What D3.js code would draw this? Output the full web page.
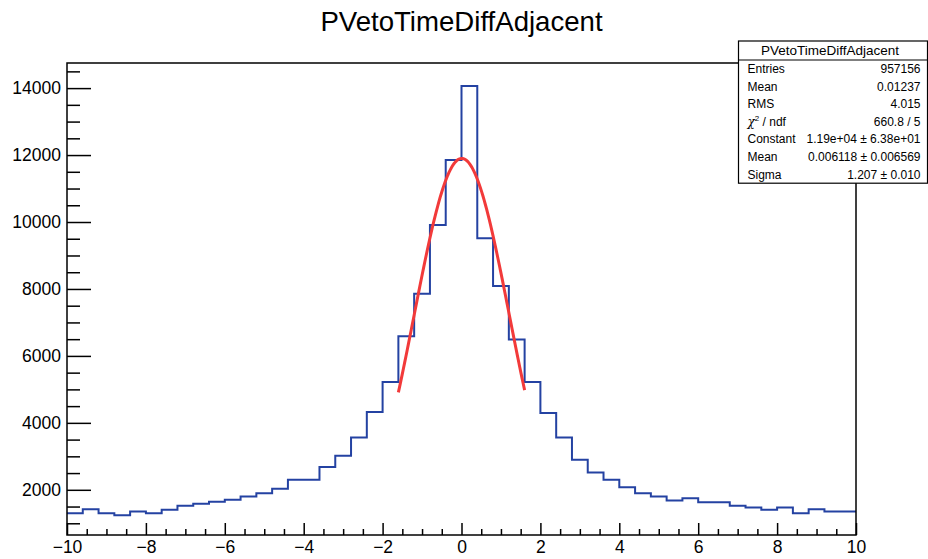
<!DOCTYPE html>
<html>
<head>
<meta charset="utf-8">
<script src="https://d3js.org/d3.v7.min.js"></script>
<style>
  body { margin: 0; background: #fff; }
  text { font-family: "Liberation Sans", Arial, sans-serif; }
</style>
</head>
<body>
<div id="chart"></div>
<script>
  // bin contents, 50 bins of width 0.4 from -10 to 10
  const binCounts = [
    1302, 1422, 1302, 1242, 1351, 1302, 1401, 1521, 1581, 1641,
    1701, 1800, 1900, 2030, 2300, 2300, 2680, 3018, 3566, 4326,
    5224, 6590, 7859, 9913, 11850, 14060, 9515, 8087, 6491, 5224,
    4296, 3566, 2898, 2518, 2300, 2080, 1900, 1800, 1680, 1750,
    1630, 1630, 1521, 1471, 1401, 1471, 1302, 1422, 1351, 1351
  ];
  const xRange = [-10, 10];
  const yRange = [650, 14750];
  const xTicks = [-10, -8, -6, -4, -2, 0, 2, 4, 6, 8, 10];
  const yTicks = [2000, 4000, 6000, 8000, 10000, 12000, 14000];

  // gaussian fit parameters (from the stats box)
  const fitParams = [11900, 0.006118, 1.207];
  const fitRange = [-1.6, 1.6];

  const statLabels = ["Entries", "Mean", "RMS", "chi2", "Constant", "Mean", "Sigma"];
  const statValues = ["957156", "0.01237", "4.015", "660.8 / 5",
                      "1.19e+04 \u00b1 6.38e+01", "0.006118 \u00b1 0.006569", "1.207 \u00b1 0.010"];

  const width = 928, height = 559;
  const frame = {left: 67, right: 856, top: 63, bottom: 535};

  const svg = d3.select("#chart").append("svg")
    .attr("width", width)
    .attr("height", height);

  const x = d3.scaleLinear().domain(xRange).range([frame.left, frame.right]);
  const y = d3.scaleLinear().domain(yRange).range([frame.bottom, frame.top]);

  svg.append("clipPath").attr("id", "clip")
    .append("rect")
    .attr("x", frame.left).attr("y", frame.top)
    .attr("width", frame.right - frame.left).attr("height", frame.bottom - frame.top);

  // title
  svg.append("text")
    .attr("x", (frame.left + frame.right) / 2)
    .attr("y", 31)
    .attr("text-anchor", "middle")
    .attr("font-size", 27.6)
    .attr("fill", "#000")
    .text("PVetoTimeDiffAdjacent");

  // histogram outline
  const binWidth = (xRange[1] - xRange[0]) / binCounts.length;
  const pts = [];
  binCounts.forEach((v, i) => {
    const lo = xRange[0] + i * binWidth;
    pts.push([lo, v]);
    pts.push([lo + binWidth, v]);
  });

  svg.append("path")
    .attr("clip-path", "url(#clip)")
    .attr("fill", "none")
    .attr("stroke", "#2442a2")
    .attr("stroke-width", 2)
    .attr("d", d3.line().x(d => x(d[0])).y(d => y(d[1]))(pts));

  // fit curve
  const gaus = t => fitParams[0] * Math.exp(-0.5 * Math.pow((t - fitParams[1]) / fitParams[2], 2));
  const fitPts = d3.range(0, 101).map(k => {
    const t = fitRange[0] + k * (fitRange[1] - fitRange[0]) / 100;
    return [t, gaus(t)];
  });

  svg.append("path")
    .attr("fill", "none")
    .attr("stroke", "#f23a3a")
    .attr("stroke-width", 3)
    .attr("d", d3.line().x(d => x(d[0])).y(d => y(d[1]))(fitPts));

  // axes
  const fontSize = 17.5;

  const xMinor = d3.range(xRange[0], xRange[1] + 0.001, 0.5).filter(v => Math.abs(v % 2) > 1e-6);
  const yMinor = d3.range(1000, yRange[1], 500).filter(v => v % 2000 !== 0);

  svg.append("g")
    .attr("transform", `translate(0,${frame.bottom})`)
    .call(d3.axisBottom(x).tickValues(xMinor).tickSize(-6).tickFormat(""))
    .call(g => g.select(".domain").remove());

  svg.append("g")
    .attr("transform", `translate(0,${frame.bottom})`)
    .call(d3.axisBottom(x).tickValues(xTicks).tickSize(-12).tickPadding(6))
    .call(g => g.select(".domain").remove())
    .call(g => g.selectAll("text").attr("font-size", fontSize).attr("font-family", "Liberation Sans, Arial, sans-serif"));

  svg.append("g")
    .attr("transform", `translate(${frame.left},0)`)
    .call(d3.axisLeft(y).tickValues(yMinor).tickSize(-13).tickFormat(""))
    .call(g => g.select(".domain").remove());

  svg.append("g")
    .attr("transform", `translate(${frame.left},0)`)
    .call(d3.axisLeft(y).tickValues(yTicks).tickSize(-24).tickPadding(6).tickFormat(d3.format("d")))
    .call(g => g.select(".domain").remove())
    .call(g => g.selectAll("text").attr("font-size", fontSize).attr("font-family", "Liberation Sans, Arial, sans-serif"));

  svg.selectAll(".tick line").attr("stroke", "#000").attr("stroke-width", 1.5);

  // frame
  svg.append("rect")
    .attr("x", frame.left).attr("y", frame.top)
    .attr("width", frame.right - frame.left).attr("height", frame.bottom - frame.top)
    .attr("fill", "none")
    .attr("stroke", "#000")
    .attr("stroke-width", 1.5);

  // stats box
  const box = {x: 738.5, y: 41, w: 189, titleH: 19, rowH: 17.6};
  const stats = svg.append("g");

  stats.append("rect")
    .attr("x", box.x).attr("y", box.y)
    .attr("width", box.w).attr("height", box.titleH + box.rowH * statLabels.length)
    .attr("fill", "#fff").attr("stroke", "#000").attr("stroke-width", 1.2);

  stats.append("line")
    .attr("x1", box.x).attr("x2", box.x + box.w)
    .attr("y1", box.y + box.titleH).attr("y2", box.y + box.titleH)
    .attr("stroke", "#000").attr("stroke-width", 1.2);

  stats.append("text")
    .attr("x", box.x + box.w / 2 - 3)
    .attr("y", box.y + 14)
    .attr("text-anchor", "middle")
    .attr("font-size", 13.5)
    .text("PVetoTimeDiffAdjacent");

  statLabels.forEach((lab, i) => {
    const yy = box.y + box.titleH + box.rowH * i + 13;
    const t = stats.append("text")
      .attr("x", box.x + 9)
      .attr("y", yy)
      .attr("font-size", 12);
    if (lab === "chi2") {
      t.append("tspan").attr("font-style", "italic").attr("font-family", "DejaVu Serif, serif").text("\u03c7");
      t.append("tspan").attr("font-size", 8).attr("dy", -5).text("2");
      t.append("tspan").attr("dy", 5).text(" / ndf");
    } else {
      t.text(lab);
    }
    stats.append("text")
      .attr("x", box.x + box.w - 7)
      .attr("y", yy)
      .attr("text-anchor", "end")
      .attr("font-size", 12)
      .text(statValues[i]);
  });
</script>
</body>
</html>
